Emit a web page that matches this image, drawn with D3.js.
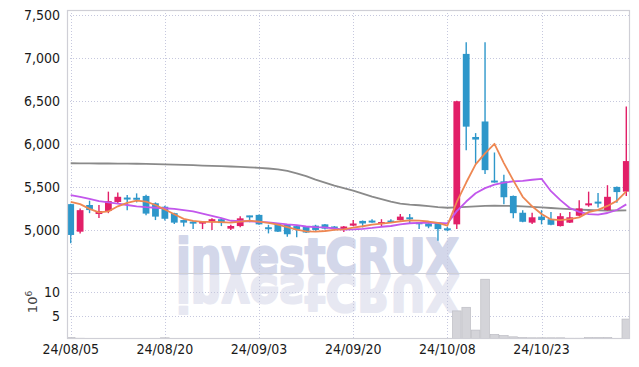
<!DOCTYPE html>
<html>
<head>
<meta charset="utf-8">
<script src="https://cdn.jsdelivr.net/npm/d3@7"></script>
<style>
body { margin: 0; background: #fff; }
text { font-family: "DejaVu Sans", sans-serif; }
</style>
</head>
<body>
<svg id="chart" width="639" height="367"></svg>
<script>
// trading days, 2024-08-05 .. 2024-11-05
var dates = ["2024-08-05","2024-08-06","2024-08-07","2024-08-08","2024-08-09","2024-08-12","2024-08-13","2024-08-14","2024-08-16","2024-08-19",
  "2024-08-20","2024-08-21","2024-08-22","2024-08-23","2024-08-26","2024-08-27","2024-08-28","2024-08-29","2024-08-30","2024-09-02",
  "2024-09-03","2024-09-04","2024-09-05","2024-09-06","2024-09-09","2024-09-10","2024-09-11","2024-09-12","2024-09-13","2024-09-19",
  "2024-09-20","2024-09-23","2024-09-24","2024-09-25","2024-09-26","2024-09-27","2024-09-30","2024-10-02","2024-10-04","2024-10-07",
  "2024-10-08","2024-10-10","2024-10-11","2024-10-14","2024-10-15","2024-10-16","2024-10-17","2024-10-18","2024-10-21","2024-10-22",
  "2024-10-23","2024-10-24","2024-10-25","2024-10-28","2024-10-29","2024-10-30","2024-10-31","2024-11-01","2024-11-04","2024-11-05"];

var open  = [5300,4980,5290,5185,5220,5325,5375,5370,5395,5310, 5270,5195,5115,5095,5075,5090,5125,5015,5045,5160,
             5175,5025,5075,5065,5045,5040,5050,5065,5040,5000, 5050,5105,5105,5070,5100,5115,5140,5085,5075,5085,
             5010,5065,7045,6080,6260,5565,5565,5395,5200,5085, 5155,5125,5045,5085,5165,5295,5320,5230,5500,5445];
var high  = [5305,5250,5340,5290,5445,5435,5405,5425,5410,5320, 5280,5200,5120,5100,5100,5135,5140,5060,5160,5165,
             5180,5060,5080,5070,5050,5045,5060,5070,5045,5045, 5115,5110,5125,5125,5125,5185,5185,5090,5080,5090,
             5035,6500,7180,6125,7180,5900,5640,5400,5230,5200, 5230,5210,5195,5210,5345,5445,5430,5520,5505,6435];
var low   = [4846,4960,5195,5140,5195,5310,5230,5320,5170,5115, 5110,5070,5040,5010,5010,5000,5045,5000,5030,5090,
             5060,4960,4975,4920,4915,4965,4990,5005,5005,4975, 5045,5030,5085,5040,5080,5110,5075,5010,5020,4875,
             4985,5010,5925,5770,5650,5550,5300,5135,5090,5070, 5065,5055,5040,5080,5160,5270,5260,5225,5315,5395];
var close = [4942,5230,5231,5220,5335,5385,5355,5355,5190,5155, 5130,5085,5085,5075,5095,5125,5080,5046,5135,5155,
             5065,5015,4980,4950,5005,4970,5000,5015,5010,5040, 5075,5075,5090,5090,5095,5155,5130,5070,5040,5010,
             5005,6495,6200,6050,5695,5560,5380,5195,5095,5147, 5115,5060,5160,5147,5250,5300,5315,5385,5440,5800];

// moving averages
var ma5  = [5325,5300,5245,5205,5215,5275,5315,5340,5330,5290, 5237,5183,5129,5106,5094,5093,5092,5084,5096,5108,
            5096,5083,5062,5033,5003,4984,4981,4988,5000,5007, 5028,5043,5061,5074,5085,5101,5112,5108,5098,5081,
            5051,5325,5551,5761,5890,6001,5777,5576,5385,5275, 5186,5122,5115,5126,5146,5207,5234,5279,5338,5448];
var ma10 = [5405,5385,5360,5335,5320,5305,5290,5275,5265,5258, 5252,5244,5230,5215,5191,5165,5138,5107,5101,5101,
            5095,5088,5077,5065,5056,5040,5032,5029,5017,5005, 5006,5012,5023,5037,5046,5065,5078,5083,5086,5083,
            5076,5219,5330,5426,5486,5526,5551,5564,5569,5583, 5594,5450,5346,5255,5211,5185,5178,5197,5232,5297];
var ma60 = [5775,5774,5773,5772,5772,5771,5770,5769,5767,5765, 5762,5759,5756,5752,5748,5745,5741,5737,5733,5728,
            5722,5714,5703,5685,5658,5625,5585,5550,5515,5486, 5457,5422,5388,5359,5330,5307,5295,5287,5278,5266,
            5258,5262,5268,5275,5280,5282,5280,5278,5274,5268, 5262,5255,5248,5242,5236,5232,5228,5226,5226,5228];

// volume, millions
var volume = [0.45,0.3,0.2,0.2,0.25,0.2,0.15,0.15,0.2,0.2, 0.4,0.2,0.2,0.2,0.2,0.2,0.2,0.2,0.2,0.2,
              0.2,0.2,0.2,0.2,0.2,0.2,0.2,0.2,0.2,0.2, 0.2,0.2,0.2,0.2,0.2,0.2,0.2,0.2,0.2,0.2,
              0.2,6.0,6.75,2.0,12.6,1.1,0.85,0.6,0.45,0.4, 0.4,0.4,0.4,0.3,0.3,0.45,0.45,0.45,0.25,4.3];

var priceTicks = [5000,5500,6000,6500,7000,7500];
var volTicks = [5,10];
var dateTicks = [0,10,20,30,40,50].map(function(i){ return dates[i]; });

(function(){
var svg = d3.select("#chart");
var pl = 67, pr = 630, pt = 10, pm = 273, pb = 338;
var tickFont = "'DejaVu Sans Condensed', 'DejaVu Sans', sans-serif";

var x = d3.scaleBand().domain(dates).range([66, 631]).paddingInner(0).paddingOuter(0);
var bw = x.bandwidth();
var cx = function(d){ return x(d) + bw / 2; };
var y = d3.scaleLinear().domain([4500, 7555]).range([pm, pt]);
var yv = d3.scaleLinear().domain([0, 13.9]).range([339.7, pm]);

var fmtDate = function(s){ return s.slice(2).replace(/-/g, "/"); };

var defs = svg.append("defs");
defs.append("clipPath").attr("id", "plotclip")
  .append("rect").attr("x", pl).attr("y", pt).attr("width", pr - pl).attr("height", pm - pt);
defs.append("clipPath").attr("id", "volclip")
  .append("rect").attr("x", pl).attr("y", pm).attr("width", pr - pl).attr("height", pb - pm);

// watermark + reflection
var wm = svg.append("g");
wm.append("text").attr("x", 176).attr("y", 274)
  .attr("textLength", 283).attr("lengthAdjust", "spacingAndGlyphs")
  .style("font-weight", "bold").style("font-size", "50px").style("fill", "#d3d7ea")
  .style("stroke", "#d3d7ea").style("stroke-width", 2.2).style("stroke-linejoin", "round")
  .text("investCRUX");
wm.append("text").attr("x", 176).attr("y", -276)
  .attr("transform", "scale(1,-1)")
  .attr("textLength", 283).attr("lengthAdjust", "spacingAndGlyphs")
  .style("font-weight", "bold").style("font-size", "50px").style("fill", "#e7e8f2")
  .style("stroke", "#e7e8f2").style("stroke-width", 2.2).style("stroke-linejoin", "round")
  .text("investCRUX");

// grid
var grid = svg.append("g");
grid.selectAll("line.h").data(priceTicks).enter().append("line").attr("class", "h")
  .attr("x1", pl).attr("x2", pr)
  .attr("y1", function(d){ return Math.round(y(d)) + 0.5; })
  .attr("y2", function(d){ return Math.round(y(d)) + 0.5; });
grid.selectAll("line.hv").data(volTicks).enter().append("line").attr("class", "hv")
  .attr("x1", pl).attr("x2", pr)
  .attr("y1", function(d){ return Math.round(yv(d)) + 0.5; })
  .attr("y2", function(d){ return Math.round(yv(d)) + 0.5; });
grid.selectAll("line.v").data(dateTicks).enter().append("line").attr("class", "v")
  .attr("x1", function(d){ return Math.round(cx(d)) + 0.5; })
  .attr("x2", function(d){ return Math.round(cx(d)) + 0.5; })
  .attr("y1", pt).attr("y2", pb);
grid.selectAll("line").style("stroke", "#c6c8de").style("stroke-width", 1).style("stroke-dasharray", "1,2");

// volume bars
svg.append("g").attr("clip-path", "url(#volclip)")
  .selectAll("rect").data(dates).enter().append("rect")
  .attr("x", function(d){ return x(d) + 0.4; })
  .attr("width", bw - 0.8)
  .attr("y", function(d, i){ return yv(volume[i]); })
  .attr("height", function(d, i){ return yv(0) - yv(volume[i]); })
  .style("fill", "#d4d4d9").style("stroke", "#bdbdc4").style("stroke-width", 0.7);

// moving averages
var plot = svg.append("g").attr("clip-path", "url(#plotclip)");
function maLine(arr, col, w) {
  var line = d3.line().x(function(d){ return cx(d); }).y(function(d, i){ return y(arr[i]); });
  plot.append("path").datum(dates).attr("d", line)
    .style("fill", "none").style("stroke", col).style("stroke-width", w).style("stroke-linejoin", "round");
}
maLine(ma60, "#8a8a8a", 1.8);

// candles
var up = "#e21f68", down = "#2e97ca";
var cd = plot.selectAll("g.candle").data(dates).enter().append("g").attr("class", "candle");
cd.append("line")
  .attr("x1", cx).attr("x2", cx)
  .attr("y1", function(d, i){ return y(high[i]); })
  .attr("y2", function(d, i){ return y(low[i]); })
  .style("stroke", function(d, i){ return close[i] >= open[i] ? up : down; })
  .style("stroke-width", 1.4);
cd.append("rect")
  .attr("x", function(d){ return cx(d) - bw * 0.36; })
  .attr("width", bw * 0.72)
  .attr("y", function(d, i){
    var t = y(Math.max(open[i], close[i])), b = y(Math.min(open[i], close[i]));
    return b - t < 2 ? (t + b) / 2 - 1 : t; })
  .attr("height", function(d, i){
    var h = y(Math.min(open[i], close[i])) - y(Math.max(open[i], close[i]));
    return Math.max(h, 2); })
  .style("fill", function(d, i){ return close[i] >= open[i] ? up : down; });

maLine(ma10, "#c257ec", 1.8);
maLine(ma5, "#ee8752", 1.8);

// frame
svg.append("rect").attr("x", pl + 0.5).attr("y", pt + 0.5)
  .attr("width", pr - pl - 1).attr("height", pb - pt)
  .style("fill", "none").style("stroke", "#cfcfd6").style("stroke-width", 1.2);
svg.append("line").attr("x1", pl).attr("x2", pr).attr("y1", pm + 0.5).attr("y2", pm + 0.5)
  .style("stroke", "#cfcfd6").style("stroke-width", 1.2);

// axes
var ax = svg.append("g").attr("transform", "translate(" + pl + ",0)")
  .call(d3.axisLeft(y).tickValues(priceTicks).tickFormat(d3.format(",")).tickSize(0).tickPadding(7));
var axv = svg.append("g").attr("transform", "translate(" + pl + ",0)")
  .call(d3.axisLeft(yv).tickValues(volTicks).tickSize(0).tickPadding(7));
var axx = svg.append("g").attr("transform", "translate(0," + pb + ")")
  .call(d3.axisBottom(x).tickValues(dateTicks).tickFormat(fmtDate).tickSize(0).tickPadding(6));
[ax, axv, axx].forEach(function(a){
  a.select(".domain").remove();
  a.selectAll("text").style("font-family", tickFont).style("font-stretch", "condensed")
    .style("font-size", "14px").style("fill", "#1a1a1a");
});

var unit = svg.append("text").attr("transform", "translate(37,302) rotate(-90)")
  .style("text-anchor", "middle").style("font-size", "13px").style("fill", "#444");
unit.append("tspan").text("10");
unit.append("tspan").attr("dy", -5).style("font-size", "9px").text("6");
})();
</script>
</body>
</html>
